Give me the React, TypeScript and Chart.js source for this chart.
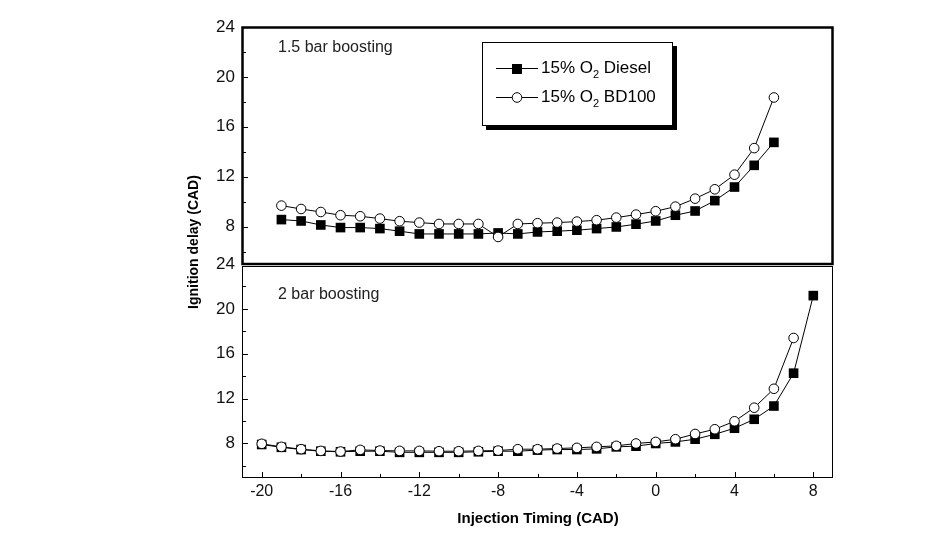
import React, { useEffect, useRef } from 'react';
import { Chart, registerables } from 'chart.js';

Chart.register(...registerables);

// ---- data ----
const timingTop = [-19, -18, -17, -16, -15, -14, -13, -12, -11, -10, -9, -8, -7, -6, -5, -4, -3, -2, -1, 0, 1, 2, 3, 4, 5, 6];
const dieselTop = [8.56, 8.45, 8.13, 7.92, 7.92, 7.84, 7.63, 7.41, 7.41, 7.41, 7.41, 7.49, 7.41, 7.57, 7.63, 7.71, 7.84, 7.97, 8.19, 8.45, 8.91, 9.25, 10.08, 11.17, 12.91, 14.75];
const bd100Top = [9.68, 9.41, 9.17, 8.91, 8.83, 8.64, 8.43, 8.32, 8.21, 8.21, 8.21, 7.17, 8.21, 8.27, 8.32, 8.4, 8.51, 8.72, 8.96, 9.23, 9.6, 10.24, 10.99, 12.16, 14.29, 18.35];

const timingBotDiesel = [-20, -19, -18, -17, -16, -15, -14, -13, -12, -11, -10, -9, -8, -7, -6, -5, -4, -3, -2, -1, 0, 1, 2, 3, 4, 5, 6, 7, 8];
const dieselBot = [7.9, 7.65, 7.45, 7.3, 7.25, 7.3, 7.3, 7.2, 7.2, 7.2, 7.2, 7.25, 7.3, 7.3, 7.4, 7.45, 7.45, 7.51, 7.69, 7.75, 7.99, 8.13, 8.37, 8.81, 9.35, 10.15, 11.33, 14.26, 21.18];
const timingBotBD = [-20, -19, -18, -17, -16, -15, -14, -13, -12, -11, -10, -9, -8, -7, -6, -5, -4, -3, -2, -1, 0, 1, 2, 3, 4, 5, 6, 7];
const bd100Bot = [7.96, 7.69, 7.48, 7.33, 7.27, 7.42, 7.36, 7.33, 7.33, 7.3, 7.3, 7.33, 7.36, 7.48, 7.48, 7.54, 7.6, 7.69, 7.78, 7.99, 8.13, 8.37, 8.84, 9.26, 9.97, 11.18, 12.87, 17.4];

const xMajorTicks = [-20, -16, -12, -8, -4, 0, 4, 8];
const xMinorTicks = [-18, -14, -10, -6, -2, 2, 6];
const yMajorTicks = [8, 12, 16, 20, 24];
const yMinorTicks = [6, 10, 14, 18, 22];

const seriesNames = ['Diesel', 'BD100'];
const panelLabels = ['1.5 bar boosting', '2 bar boosting'];
const xTitle = 'Injection Timing (CAD)';
const yTitle = 'Ignition delay (CAD)';

const toPts = (xs: number[], ys: number[]) => xs.map((x, i) => ({ x, y: ys[i] }));

const FONT = "'Liberation Sans', Arial, sans-serif";

const decorPlugin = {
  id: 'decor',
  afterDraw(chart: any) {
    const { ctx, scales } = chart;
    const xs = scales.x;
    const yt = scales.yTop;
    const yb = scales.yBot;
    const L = xs.left;
    const R = xs.right;
    ctx.save();
    ctx.strokeStyle = '#000';
    ctx.fillStyle = '#000';

    // inward ticks on y axes
    ctx.lineWidth = 1;
    const drawYTicks = (s: any) => {
      yMajorTicks.forEach((v) => {
        const p = Math.round(s.getPixelForValue(v)) + 0.5;
        ctx.beginPath(); ctx.moveTo(L, p); ctx.lineTo(L + 6, p); ctx.stroke();
      });
      yMinorTicks.forEach((v) => {
        const p = Math.round(s.getPixelForValue(v)) + 0.5;
        ctx.beginPath(); ctx.moveTo(L, p); ctx.lineTo(L + 4, p); ctx.stroke();
      });
    };
    drawYTicks(yt);
    drawYTicks(yb);
    const bottom = yb.bottom;
    xMajorTicks.forEach((v) => {
      const p = Math.round(xs.getPixelForValue(v)) + 0.5;
      ctx.beginPath(); ctx.moveTo(p, bottom); ctx.lineTo(p, bottom - 5); ctx.stroke();
    });
    xMinorTicks.forEach((v) => {
      const p = Math.round(xs.getPixelForValue(v)) + 0.5;
      ctx.beginPath(); ctx.moveTo(p, bottom); ctx.lineTo(p, bottom - 3); ctx.stroke();
    });

    // frames
    ctx.lineWidth = 1;
    ctx.strokeRect(L + 0.5, yb.top + 2.5, R - L - 1, yb.bottom - yb.top - 2);
    ctx.lineWidth = 2.5;
    ctx.strokeRect(L + 0.5, yt.top + 0.5, R - L - 1, yt.bottom - yt.top - 0.5);

    // panel labels
    ctx.fillStyle = '#222';
    ctx.font = `16px ${FONT}`;
    ctx.textAlign = 'left';
    ctx.textBaseline = 'middle';
    ctx.fillText(panelLabels[0], 278, 48);
    ctx.fillText(panelLabels[1], 278, 295);

    // legend
    ctx.fillStyle = '#000';
    ctx.fillRect(486, 46, 191, 84);
    ctx.fillStyle = '#fff';
    ctx.fillRect(482, 42, 191, 84);
    ctx.lineWidth = 1;
    ctx.strokeStyle = '#000';
    ctx.strokeRect(482.5, 42.5, 190, 83);
    const rows = [68, 97];
    rows.forEach((ry, i) => {
      ctx.strokeStyle = '#000';
      ctx.lineWidth = 1;
      ctx.beginPath(); ctx.moveTo(496, ry + 0.5); ctx.lineTo(538, ry + 0.5); ctx.stroke();
      if (i === 0) {
        ctx.fillStyle = '#000';
        ctx.fillRect(512, ry - 4, 10, 10);
      } else {
        ctx.fillStyle = '#fff';
        ctx.beginPath(); ctx.arc(517, ry + 0.5, 4.8, 0, Math.PI * 2); ctx.fill(); ctx.stroke();
      }
      ctx.fillStyle = '#000';
      ctx.font = `17px ${FONT}`;
      ctx.textBaseline = 'middle';
      ctx.textAlign = 'left';
      let tx = 541;
      const a = '15% O';
      ctx.fillText(a, tx, ry);
      tx += ctx.measureText(a).width;
      ctx.font = `11px ${FONT}`;
      ctx.fillText('2', tx, ry + 7);
      tx += ctx.measureText('2').width;
      ctx.font = `17px ${FONT}`;
      ctx.fillText(' ' + seriesNames[i], tx, ry);
    });

    // axis titles
    ctx.fillStyle = '#000';
    ctx.font = `bold 15px ${FONT}`;
    ctx.textAlign = 'center';
    ctx.textBaseline = 'middle';
    ctx.fillText(xTitle, 538, 519);
    ctx.save();
    ctx.translate(194, 242);
    ctx.rotate(-Math.PI / 2);
    ctx.font = `bold 14px ${FONT}`;
    ctx.fillText(yTitle, 0, 0);
    ctx.restore();

    ctx.restore();
  },
};

export default function App() {
  const ref = useRef<HTMLCanvasElement>(null);
  useEffect(() => {
    if (!ref.current) return;
    const lineStyle = { borderColor: '#000', borderWidth: 1, tension: 0, showLine: true };
    const circle = { pointStyle: 'circle', pointRadius: 4.8, pointBackgroundColor: '#fff', pointBorderColor: '#000', pointBorderWidth: 1 };
    const square = { pointStyle: 'rect', pointRadius: 6.8, pointBackgroundColor: '#000', pointBorderColor: '#000', pointBorderWidth: 0 };
    const yScaleBase = (weight: number, stackWeight: number) => ({
      type: 'linear',
      position: 'left',
      stack: 'panels',
      stackWeight,
      weight,
      min: 5,
      max: 24,
      grid: { display: false, drawTicks: false },
      border: { display: false },
      afterBuildTicks: (s: any) => { s.ticks = yMajorTicks.map((v) => ({ value: v })); },
      afterFit: (s: any) => { s.width = 242; },
      ticks: { padding: 7, color: '#111', font: { family: FONT, size: 17 } },
    });
    const chart = new Chart(ref.current, {
      type: 'scatter',
      data: {
        datasets: [
          { label: 'BD100 top', data: toPts(timingTop, bd100Top), xAxisID: 'x', yAxisID: 'yTop', ...lineStyle, ...circle },
          { label: 'Diesel top', data: toPts(timingTop, dieselTop), xAxisID: 'x', yAxisID: 'yTop', ...lineStyle, ...square },
          { label: 'BD100 bottom', data: toPts(timingBotBD, bd100Bot), xAxisID: 'x', yAxisID: 'yBot', ...lineStyle, ...circle },
          { label: 'Diesel bottom', data: toPts(timingBotDiesel, dieselBot), xAxisID: 'x', yAxisID: 'yBot', ...lineStyle, ...square },
        ] as any,
      },
      options: {
        responsive: false,
        animation: false,
        devicePixelRatio: 1,
        layout: { padding: { left: 0, top: 27, right: 113, bottom: 0 } },
        plugins: { legend: { display: false }, tooltip: { enabled: false } },
        scales: {
          x: {
            type: 'linear',
            position: 'bottom',
            min: -21,
            max: 9,
            grid: { display: false, drawTicks: false },
            border: { display: false },
            afterBuildTicks: (s: any) => { s.ticks = xMajorTicks.map((v) => ({ value: v })); },
            afterFit: (s: any) => { s.height = 58; },
            ticks: { padding: 5, color: '#111', maxRotation: 0, font: { family: FONT, size: 16 } },
          },
          yTop: yScaleBase(1, 237) as any,
          yBot: yScaleBase(0, 213) as any,
        },
      } as any,
      plugins: [decorPlugin],
    });
    return () => chart.destroy();
  }, []);
  return (
    <div style={{ position: 'fixed', left: 0, top: 0, width: 946, height: 535, background: '#fff' }}>
      <canvas ref={ref} width={946} height={535} style={{ width: 946, height: 535, display: 'block' }} />
    </div>
  );
}
